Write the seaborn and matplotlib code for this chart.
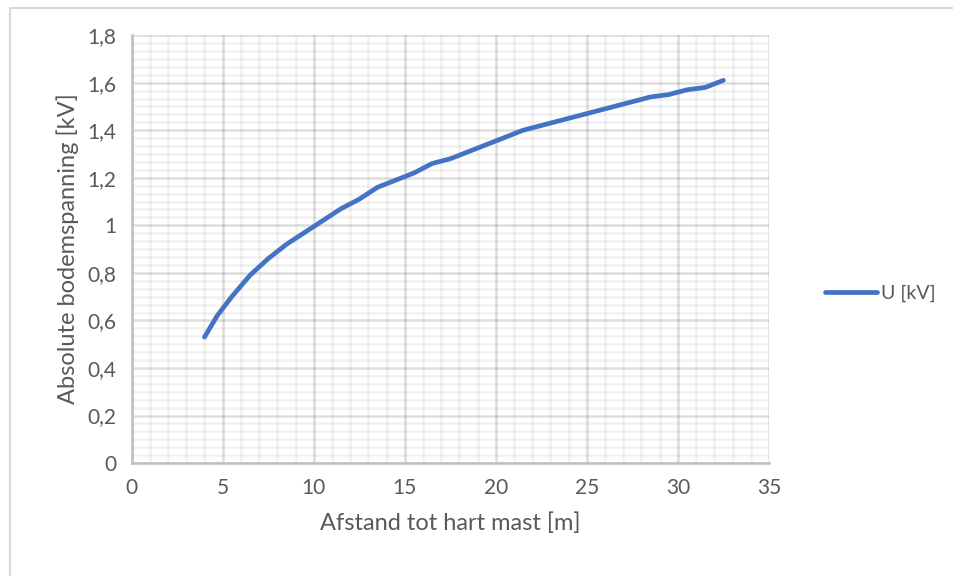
import matplotlib
matplotlib.use("Agg")
import matplotlib.pyplot as plt
from matplotlib.ticker import MultipleLocator, FuncFormatter
from matplotlib.patches import Rectangle
import seaborn as sns
import pandas as pd

# afstand (m) en bodemspanning (kV)
afstand = [4.0, 4.7, 5.5, 6.5, 7.5, 8.5, 9.5, 10.5, 11.5, 12.5, 13.5, 14.5, 15.5,
           16.5, 17.5, 18.5, 19.5, 20.5, 21.5, 22.5, 23.5, 24.5, 25.5, 26.5,
           27.5, 28.5, 29.5, 30.5, 31.5, 32.5]
spanning = [0.53, 0.62, 0.70, 0.79, 0.86, 0.92, 0.97, 1.02, 1.07, 1.11, 1.16, 1.19, 1.22,
            1.26, 1.28, 1.31, 1.34, 1.37, 1.40, 1.42, 1.44, 1.46, 1.48, 1.50,
            1.52, 1.54, 1.55, 1.57, 1.58, 1.61]
reeks_naam = "U [kV]"

df = pd.DataFrame({"x": afstand, "y": spanning})

sns.set_style("white")
plt.rcParams['font.family'] = ['Lato', 'DejaVu Sans']
text_color = "#595959"

fig = plt.figure(figsize=(9.54, 5.76), dpi=100)
ax = fig.add_axes([0.138, 0.196, 0.668, 0.743])

sns.lineplot(data=df, x="x", y="y", ax=ax, color="#4472C4", linewidth=3.4,
             label=reeks_naam, solid_capstyle="round")

ax.set_xlim(0, 35)
ax.set_ylim(0, 1.8)
ax.xaxis.set_major_locator(MultipleLocator(5))
ax.xaxis.set_minor_locator(MultipleLocator(1))
ax.yaxis.set_major_locator(MultipleLocator(0.2))
ax.yaxis.set_minor_locator(MultipleLocator(0.2 / 6))

fmt = FuncFormatter(lambda v, p: "{:g}".format(round(v, 1)).replace(".", ","))
ax.yaxis.set_major_formatter(fmt)

# halfdoorzichtig zodat kruisingen de hoofdlijnen niet lichter maken
ax.grid(which="minor", color="black", alpha=0.05, linewidth=1.8)
ax.grid(which="major", color="black", alpha=0.13, linewidth=1.8)
ax.set_axisbelow(True)

for s in ["top", "right"]:
    ax.spines[s].set_visible(False)
for s in ["left", "bottom"]:
    ax.spines[s].set_color("#bfbfbf")
    ax.spines[s].set_linewidth(1.8)

ax.tick_params(which="major", direction="out", length=5, width=1.4, color="#bfbfbf",
               labelsize=15, labelcolor=text_color, pad=6)
ax.tick_params(which="minor", length=0)

ax.set_xlabel("Afstand tot hart mast [m]", fontsize=17, color=text_color, labelpad=10)
ax.set_ylabel("Absolute bodemspanning [kV]", fontsize=17, color=text_color, labelpad=6)

leg = ax.legend(loc="center left", bbox_to_anchor=(0.846, 0.49), bbox_transform=fig.transFigure,
                frameon=False, fontsize=14, handlelength=2.7, handletextpad=0.2)
for t in leg.get_texts():
    t.set_color(text_color)

# rand om de hele grafiek
fig.patches.append(Rectangle((10 / 954, -0.1), 1.2, 1.1 - 8 / 576, transform=fig.transFigure,
                             fill=False, edgecolor="#d9d9d9", linewidth=1.5))

fig.savefig("out.png", dpi=100)
